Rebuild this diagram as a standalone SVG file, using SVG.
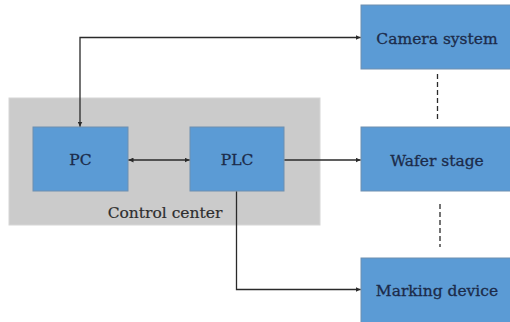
<svg xmlns="http://www.w3.org/2000/svg" width="510" height="322" viewBox="0 0 510 322">
  <style>
    .box { fill: #5b9bd5; stroke: #6f8fb0; stroke-width: 1; }
    .label { font-family: "DejaVu Serif", "Liberation Serif", serif; font-size: 15.5px; fill: #1c2b4a; stroke: #1c2b4a; stroke-width: 0.3; text-anchor: middle; }
    .panel { fill: #cbcbcb; stroke: #d6d6d6; stroke-width: 1; }
    .panel-label { font-family: "DejaVu Serif", "Liberation Serif", serif; font-size: 15.5px; fill: #2e2e2e; stroke: #2e2e2e; stroke-width: 0.2; text-anchor: middle; }
    .wire { fill: none; stroke: #2a2a2a; stroke-width: 1.3; }
    .dash { fill: none; stroke: #2a2a2a; stroke-width: 1.3; stroke-dasharray: 5 3; }
  </style>
  <defs>
    <marker id="arrow" viewBox="0 0 10 10" refX="10" refY="5" markerWidth="5" markerHeight="5" orient="auto-start-reverse" markerUnits="userSpaceOnUse">
      <path d="M0,0 L10,5 L0,10 z" fill="#2a2a2a"/>
    </marker>
  </defs>

  <rect width="510" height="322" fill="#ffffff"/>

  <!-- Control center panel -->
  <g id="control-center">
    <rect class="panel" x="9" y="98" width="311" height="127"/>
    <text class="panel-label" x="165" y="218">Control center</text>
  </g>

  <g id="pc">
    <rect class="box" x="33" y="127" width="95" height="64"/>
    <text class="label" x="80.5" y="165">PC</text>
  </g>

  <g id="plc">
    <rect class="box" x="190" y="127" width="94" height="64"/>
    <text class="label" x="237" y="165">PLC</text>
  </g>

  <g id="camera-system">
    <rect class="box" x="361" y="5" width="150" height="64"/>
    <text class="label" x="437" y="44">Camera system</text>
  </g>

  <g id="wafer-stage">
    <rect class="box" x="361" y="127" width="150" height="64"/>
    <text class="label" x="437" y="166">Wafer stage</text>
  </g>

  <g id="marking-device">
    <rect class="box" x="361" y="258" width="150" height="66"/>
    <text class="label" x="437" y="296">Marking device</text>
  </g>

  <!-- Connectors -->
  <g id="connectors">
    <path class="wire" d="M80,126.5 V37.5 H360.5" marker-start="url(#arrow)" marker-end="url(#arrow)"/>
    <path class="wire" d="M128.5,160 H189.5" marker-start="url(#arrow)" marker-end="url(#arrow)"/>
    <path class="wire" d="M284.5,160 H360.5" marker-end="url(#arrow)"/>
    <path class="wire" d="M236.5,191.5 V289.5 H360.5" marker-end="url(#arrow)"/>
    <path class="dash" d="M437.5,74 V122"/>
    <path class="dash" d="M440,204 V247"/>
  </g>
</svg>
